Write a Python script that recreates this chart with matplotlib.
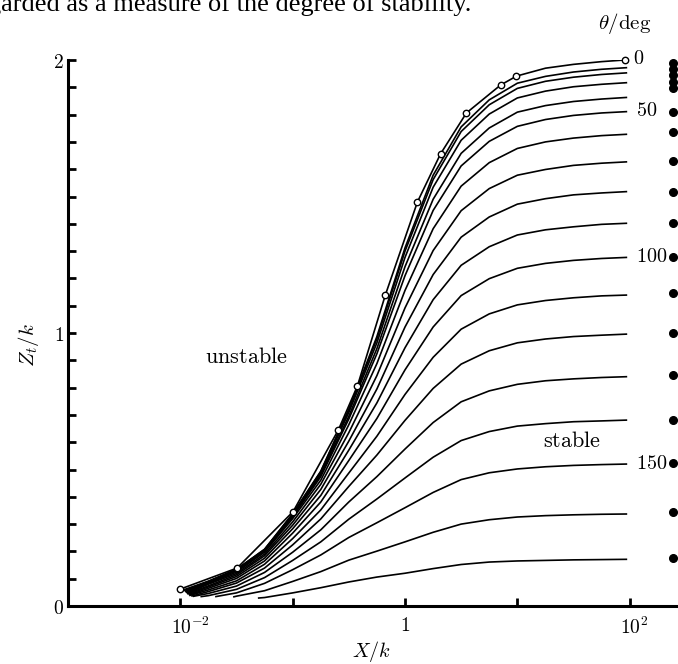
"""Stability curves Z_t/k against X/k for contact angles 0-170 deg."""

import numpy as np
import matplotlib

matplotlib.use("Agg")
import matplotlib.pyplot as plt
import matplotlib.transforms as mtransforms

plt.rcParams["mathtext.fontset"] = "cm"
plt.rcParams["font.family"] = ["Liberation Serif", "DejaVu Serif"]

# contact angle of each curve (deg)
THETA_DEG = [0, 10, 20, 30, 40, 50, 60, 70, 80, 90,
             100, 110, 120, 130, 140, 150, 160, 170]
LABELLED_THETA = [0, 50, 100, 150]

# theta = 0 curve and its open circles (computed points)
CIRCLE_X = [0.010, 0.032, 0.101, 0.255, 0.377, 0.668, 1.29, 2.07, 3.52, 7.08, 9.82, 90.0]
CIRCLE_Z = [0.062, 0.139, 0.346, 0.645, 0.806, 1.139, 1.480, 1.656, 1.806, 1.908, 1.941, 2.0]
ZERO_X = [0.010, 0.032, 0.101, 0.255, 0.377, 0.668, 1.29, 2.07, 3.52, 7.08, 9.82,
          17.8, 31.6, 56.2, 90.0]
ZERO_Z = [0.062, 0.139, 0.346, 0.645, 0.806, 1.139, 1.480, 1.656, 1.806, 1.908, 1.941,
          1.970, 1.984, 1.994, 2.0]

# the other curves, read on a common X grid (nan = curve not started yet)
X_GRID = [0.0178, 0.0316, 0.0562, 0.1, 0.178, 0.316, 0.562, 1.0,
          1.78, 3.16, 5.62, 10.0, 17.8, 31.6, 56.2, 95.0]
START_X = [0.0105, 0.0107, 0.011, 0.011, 0.0112, 0.0113, 0.0115, 0.0115, 0.0118,
           0.012, 0.012, 0.0125, 0.0129, 0.0151, 0.0204, 0.0295, 0.049]
START_Z = [0.058, 0.056, 0.054, 0.052, 0.050, 0.048, 0.046, 0.044, 0.042,
           0.040, 0.038, 0.036, 0.035, 0.034, 0.034, 0.033, 0.029]
nan = np.nan
Z_CURVES = [
    [.091, .134, .208, .338, .494, .721, .987, 1.312, 1.578, 1.755, 1.854, 1.915, 1.940, 1.956, 1.966, 1.972],
    [.090, .134, .207, .337, .492, .717, .979, 1.300, 1.562, 1.738, 1.836, 1.896, 1.922, 1.937, 1.947, 1.953],
    [.089, .132, .205, .334, .487, .709, .964, 1.277, 1.534, 1.706, 1.802, 1.861, 1.886, 1.902, 1.911, 1.917],
    [.088, .130, .203, .330, .481, .695, .943, 1.243, 1.490, 1.658, 1.751, 1.809, 1.833, 1.848, 1.857, 1.863],
    [.085, .129, .201, .326, .474, .685, .924, 1.210, 1.449, 1.612, 1.702, 1.757, 1.782, 1.797, 1.806, 1.811],
    [.083, .124, .197, .320, .461, .664, .888, 1.156, 1.382, 1.538, 1.624, 1.676, 1.700, 1.714, 1.723, 1.728],
    [.080, .119, .190, .308, .446, .635, .844, 1.092, 1.302, 1.448, 1.529, 1.578, 1.599, 1.614, 1.622, 1.627],
    [.074, .114, .184, .296, .427, .604, .795, 1.022, 1.214, 1.351, 1.425, 1.472, 1.492, 1.506, 1.513, 1.518],
    [.070, .108, .175, .283, .405, .571, .744, .946, 1.122, 1.248, 1.316, 1.359, 1.378, 1.389, 1.398, 1.402],
    [.065, .101, .165, .267, .381, .533, .687, .865, 1.022, 1.137, 1.199, 1.237, 1.255, 1.266, 1.273, 1.277],
    [.059, .092, .153, .247, .352, .487, .622, .775, .911, 1.014, 1.070, 1.103, 1.119, 1.129, 1.136, 1.139],
    [.053, .084, .139, .224, .319, .438, .553, .680, .797, .886, .935, .964, .978, .987, .992, .996],
    [.046, .073, .123, .197, .279, .381, .474, .575, .672, .748, .788, .812, .825, .832, .837, .840],
    [.038, .061, .104, .167, .235, .318, .392, .469, .545, .606, .639, .659, .668, .675, .678, .681],
    [nan, .048, .083, .133, .187, .251, .305, .360, .416, .463, .488, .502, .510, .515, .518, .520],
    [nan, .036, .056, .090, .126, .168, .201, .235, .270, .300, .316, .326, .331, .334, .336, .337],
    [nan, nan, .031, .048, .067, .088, .106, .120, .137, .152, .161, .165, .167, .169, .170, .171],
]

# column of filled dots at the right edge (one per curve)
EDGE_DOT_X = 245.0
EDGE_DOT_Z = [1.989, 1.967, 1.945, 1.919, 1.897, 1.810, 1.736, 1.630, 1.516,
              1.403, 1.278, 1.147, 1.000, 0.846, 0.681, 0.524, 0.344, 0.176]


def main() -> None:
    fig = plt.figure(figsize=(6.78, 6.64), dpi=100)
    ax = fig.add_axes([68 / 678, 58 / 664, 610 / 678, 546 / 664])

    line_kw = dict(color="black", lw=1.2, solid_capstyle="butt",
                   solid_joinstyle="round")

    ax.plot(ZERO_X, ZERO_Z, **line_kw)
    ax.plot(CIRCLE_X, CIRCLE_Z, ls="none", marker="o", ms=4.6, mfc="white",
            mec="black", mew=1.0, clip_on=False, zorder=3)
    ends = [(CIRCLE_X[-1], CIRCLE_Z[-1])]

    for sx, sz, zs in zip(START_X, START_Z, Z_CURVES):
        xs = [sx] + X_GRID
        ys = [sz] + zs
        pairs = [(x, y) for x, y in zip(xs, ys) if not np.isnan(y)]
        xs, ys = zip(*pairs)
        ax.plot(xs, ys, **line_kw)
        ends.append((xs[-1], ys[-1]))

    for theta, (ex, ez) in zip(THETA_DEG, ends):
        if theta in LABELLED_THETA:
            ax.annotate(rf"${theta}$", (ex, ez), xytext=(6, 0),
                        textcoords="offset points", va="center", ha="left",
                        fontsize=14.5, annotation_clip=False)

    ax.plot([EDGE_DOT_X] * len(EDGE_DOT_Z), EDGE_DOT_Z, ls="none", marker="o",
            ms=5.5, color="black", clip_on=False)

    ax.text(0.0166, 0.908, r"$\mathrm{unstable}$", fontsize=16, va="center")
    ax.text(17.0, 0.60, r"$\mathrm{stable}$", fontsize=16, va="center")

    ax.set_xscale("log")
    ax.set_xlim(1e-3, 10 ** 2.43)
    ax.set_ylim(0, 2)

    for side in ("top", "right"):
        ax.spines[side].set_visible(False)
    for side in ("left", "bottom"):
        ax.spines[side].set_linewidth(2.2)

    ax.set_xticks([1e-2, 1e-1, 1, 1e1, 1e2])
    ax.set_xticklabels([])
    ax.xaxis.set_minor_locator(matplotlib.ticker.NullLocator())
    ax.set_yticks(np.arange(0, 2.01, 0.1))
    ax.set_yticklabels([])
    ax.tick_params(direction="in", length=6, width=2)

    # tick labels: the "10" sits on the tick, the exponent hangs right
    shift = mtransforms.offset_copy(ax.get_xaxis_transform(), fig=fig,
                                    x=-7, y=-8, units="points")
    for xv, lab in [(1e-2, r"$10^{-2}$"), (1e2, r"$10^{2}$")]:
        ax.text(xv, 0, lab, transform=shift, ha="left", va="top", fontsize=14)
    ax.annotate(r"$1$", (1, 0), xycoords=ax.get_xaxis_transform(),
                xytext=(0, -8), textcoords="offset points", ha="center",
                va="top", fontsize=14)
    for yv in (0, 1, 2):
        ax.annotate(rf"${yv}$", (0, yv), xycoords=ax.get_yaxis_transform(),
                    xytext=(-3, -2), textcoords="offset points", ha="right",
                    va="center", fontsize=14)

    ax.set_xlabel(r"$X/k$", fontsize=14.5)
    ax.xaxis.set_label_coords(0.498, -0.06)
    ax.set_ylabel(r"$Z_{t}/k$", fontsize=15)
    ax.yaxis.set_label_coords(-0.045, 0.478)

    fig.text(625 / 678, 1 - 24 / 664, r"$\theta/\mathrm{deg}$", fontsize=15,
             ha="center", va="center")
    # the page text above the figure is cut by the top edge
    fig.text(-12 / 678, 1 - 11 / 664,
             "garded as a measure of the degree of stability.",
             fontsize=19, va="baseline", ha="left")

    fig.savefig("out.png", dpi=100)
    plt.close(fig)


if __name__ == "__main__":
    main()
